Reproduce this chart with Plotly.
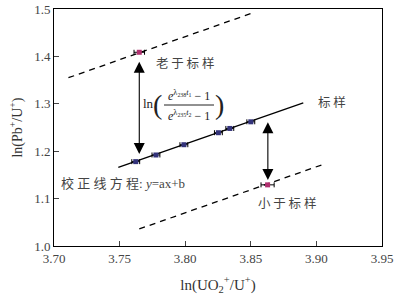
import plotly.graph_objects as go

# Standard sample points
std_x = [3.7623, 3.7777, 3.7990, 3.8253, 3.8340, 3.8500]
std_y = [1.178, 1.192, 1.2137, 1.239, 1.248, 1.262]
std_xerr = [0.003, 0.003, 0.003, 0.003, 0.003, 0.003]

# Older sample / younger sample
old_x = [3.765]
old_y = [1.4087]
old_xerr = [0.004]
young_x = [3.8628]
young_y = [1.129]
young_xerr = [0.005]

# Calibration line and parallel dashed lines (endpoints)
cal_x = [3.749, 3.890]
cal_y = [1.166, 1.302]
up_x = [3.711, 3.8527]
up_y = [1.355, 1.493]
low_x = [3.765, 3.906]
low_y = [1.036, 1.173]

# Double arrows (x, y_top, y_bottom)
arr1 = (3.765, 1.392, 1.194)
arr2 = (3.863, 1.264, 1.139)

xticks = [3.70, 3.75, 3.80, 3.85, 3.90, 3.95]
yticks = [1.0, 1.1, 1.2, 1.3, 1.4, 1.5]

FONT = "Liberation Serif, Noto Sans CJK SC, serif"
CJK = "Noto Sans CJK SC, sans-serif"
GRAY = "#444444"

fig = go.Figure()
fig.add_trace(go.Scatter(x=cal_x, y=cal_y, mode="lines", line=dict(color="black", width=1.3)))
fig.add_trace(go.Scatter(x=up_x, y=up_y, mode="lines", line=dict(color="black", width=1.3, dash="6px,5px")))
fig.add_trace(go.Scatter(x=low_x, y=low_y, mode="lines", line=dict(color="black", width=1.3, dash="6px,5px")))

fig.add_trace(go.Scatter(x=std_x, y=std_y, mode="markers",
                         marker=dict(symbol="square", size=5, color="#33337a"),
                         error_x=dict(type="data", array=std_xerr, color="black", thickness=1, width=2.5)))
fig.add_trace(go.Scatter(x=old_x + young_x, y=old_y + young_y, mode="markers",
                         marker=dict(symbol="square", size=5, color="#b0306f"),
                         error_x=dict(type="data", array=old_xerr + young_xerr, color="black", thickness=1, width=2.5)))

for (ax_, yt, yb) in [arr1, arr2]:
    fig.add_annotation(x=ax_, y=yb, ax=ax_, ay=yt, axref="x", ayref="y", xref="x", yref="y",
                       text="", showarrow=True, arrowhead=2, arrowside="end+start",
                       arrowsize=2.0, arrowwidth=1.1, arrowcolor="black")

def txt(x, y, s, size=13, font=CJK, color=GRAY, **kw):
    fig.add_annotation(x=x, y=y, xref="paper", yref="paper", text=s, showarrow=False,
                       xanchor="center", yanchor="middle",
                       font=dict(family=font, size=size, color=color), **kw)

# Convert pixel positions to paper coords
L, R, T, B = 54, 382, 9, 246
def px(xp): return (xp - L) / (R - L)
def py(yp): return (B - yp) / (B - T)

txt(px(185), py(62), "老 于 标 样", size=12.5)
txt(px(332), py(101), "标 样", size=12.5)
txt(px(287), py(202), "小 于 标 样", size=12.5)
txt(px(123), py(183), "校 正 线 方 程: <i>y</i>=ax+b", size=13, font=FONT)

# Formula
txt(px(148), py(103), "ln", size=13, font=FONT, color="#222")
txt(px(157), py(104), "(", size=28, font=FONT, color="#222")
txt(px(219), py(104), ")", size=28, font=FONT, color="#222")
txt(px(189), py(96), "<i>e</i><sup>λ<sub>238</sub><i>t</i><sub>1</sub></sup> − 1", size=12, font=FONT, color="#222")
txt(px(189), py(115), "<i>e</i><sup>λ<sub>235</sub><i>t</i><sub>2</sub></sup> − 1", size=12, font=FONT, color="#222")
fig.add_shape(type="line", xref="paper", yref="paper", x0=px(164), x1=px(214), y0=py(105), y1=py(105),
              line=dict(color="#222", width=1))

fig.update_layout(
    width=417, height=301, showlegend=False,
    margin=dict(l=L, r=417 - R, t=T, b=301 - B),
    plot_bgcolor="white", paper_bgcolor="white",
    font=dict(family=FONT, size=13, color=GRAY),
    xaxis=dict(range=[3.70, 3.95], tickvals=xticks, ticktext=[f"{v:.2f}" for v in xticks],
               ticks="inside", ticklen=5, showline=True, linecolor="black", linewidth=1, mirror=True,
               showgrid=False, zeroline=False, tickfont=dict(size=13, color=GRAY), automargin=False,
               title=dict(text="ln(UO<sub>2</sub><sup>+</sup>/U<sup>+</sup>)", font=dict(size=15, color="#333"), standoff=14)),
    yaxis=dict(range=[1.0, 1.5], tickvals=yticks, ticktext=[f"{v:.1f}" for v in yticks],
               ticks="inside", ticklen=5, showline=True, linecolor="black", linewidth=1, mirror=True,
               showgrid=False, zeroline=False, tickfont=dict(size=13, color=GRAY), automargin=False,
               title=dict(text="ln(Pb<sup>+</sup>/U<sup>+</sup>)", font=dict(size=14, color="#333"), standoff=8)),
)

fig.write_html("out.html", config={"displayModeBar": False},
               post_script="document.body.style.margin='0';")
